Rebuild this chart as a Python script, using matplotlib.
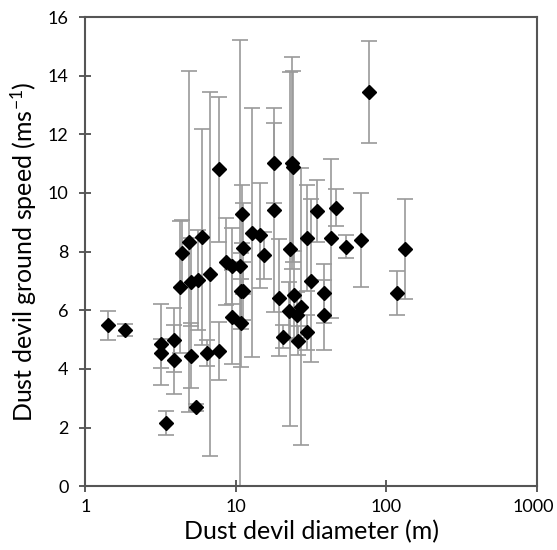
import matplotlib
matplotlib.use("Agg")
import matplotlib.pyplot as plt
import matplotlib.transforms as mtransforms
import numpy as np

# dust devil diameter (m), ground speed (m/s) and its error
diameter = [1.42, 1.84, 3.19, 3.19, 3.45, 3.91, 3.91, 4.27, 4.42, 4.92,
            5.05, 5.05, 5.43, 5.65, 5.95, 6.42, 6.75, 7.75, 7.75, 8.59,
            9.4, 9.5, 10.7, 10.97, 10.8, 11.1, 10.8, 11.1, 12.9, 14.5,
            15.4, 18.0, 18.0, 19.5, 20.7, 22.7, 22.9, 23.5, 24.1, 24.5,
            25.4, 26.0, 27.1, 29.6, 29.9, 31.6, 34.5, 38.7, 38.7, 42.9,
            46.1, 53.7, 67.5, 76.7, 117.6, 133]
speed = [5.49, 5.32, 4.84, 4.53, 2.15, 4.98, 4.32, 6.8, 7.94, 8.34,
         6.97, 4.45, 2.69, 7.03, 8.49, 4.55, 7.24, 4.61, 10.81, 7.66,
         5.78, 7.51, 7.51, 9.28, 6.66, 6.66, 5.55, 8.11, 8.65, 8.56,
         7.88, 11.03, 9.42, 6.43, 5.1, 5.98, 8.09, 11.03, 10.9, 6.52,
         5.84, 4.96, 6.12, 8.47, 5.25, 7.0, 9.39, 6.58, 5.84, 8.45,
         9.5, 8.17, 8.4, 13.45, 6.58, 8.09]
speed_err = [0.5, 0.2, 1.38, 0.5, 0.4, 1.1, 1.18, 2.25, 1.15, 5.82,
             1.5, 1.1, 0.12, 1.71, 3.69, 0.45, 6.2, 1.0, 2.48, 1.48,
             1.6, 1.3, 7.7, 1.0, 1.3, 1.0, 1.5, 1.54, 4.25, 1.79,
             0.8, 1.37, 3.49, 2.0, 0.4, 1.0, 6.05, 3.62, 3.26, 1.5,
             0.8, 0.5, 4.72, 1.8, 0.6, 2.78, 1.05, 1.0, 1.2, 2.7,
             0.64, 0.4, 1.6, 1.75, 0.75, 1.7]

plt.rcParams['font.family'] = ['Lato', 'DejaVu Sans']
plt.rcParams['mathtext.default'] = 'regular'

fig = plt.figure(figsize=(5.57, 5.5), dpi=100)
ax = fig.add_axes([0.153, 0.116, 0.811, 0.853])

ax.errorbar(diameter, speed, yerr=speed_err, fmt='D', color='black',
            markersize=7.5, ecolor='#9a9a9a', elinewidth=1.2,
            capsize=6, capthick=1.2)

ax.set_xscale('log')
ax.set_xlim(1, 1000)
ax.set_ylim(0, 16)
ax.set_yticks(np.arange(0, 17, 2))
ax.set_xticks([1, 10, 100, 1000])
ax.set_xticklabels(['1', '10', '100', '1000'])
ax.minorticks_off()
ax.tick_params(direction='inout', length=8, width=1.2, labelsize=13,
               color='#404040')
ax.tick_params(axis='x', pad=5)
ax.tick_params(axis='y', pad=8)

# keep the last x label inside the figure
lbl = ax.get_xticklabels()[-1]
lbl.set_transform(lbl.get_transform() +
                  mtransforms.ScaledTranslation(-4 / 100, 0, fig.dpi_scale_trans))

for s in ax.spines.values():
    s.set_color('#555555')
    s.set_linewidth(1.5)

ax.set_xlabel('Dust devil diameter (m)', fontsize=18, labelpad=4)
ax.set_ylabel('Dust devil ground speed (ms$^{-1}$)', fontsize=18, labelpad=6)

fig.savefig('out.png', dpi=100)
